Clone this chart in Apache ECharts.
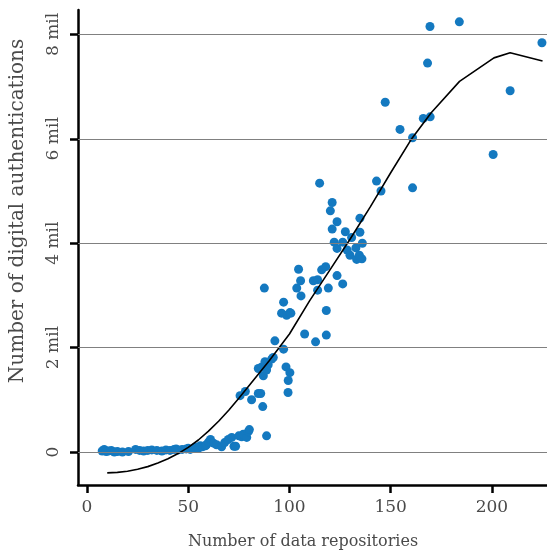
<!DOCTYPE html>
<html><head><meta charset="utf-8">
<script src="https://cdn.jsdelivr.net/npm/echarts@6/dist/echarts.min.js"></script>
<style>html,body{margin:0;padding:0;background:#fff}#c{width:547px;height:554px}</style>
</head><body><div id="c"></div>
<script>
// Scatter data: number of data repositories vs digital authentications (millions)
const repos = [
  7.5, 8.5, 9.5, 10.5, 12, 13.5, 15, 17.5, 20.5, 24, 26, 28, 30, 32, 34.5, 37, 39, 41, 43, 44, 45, 47, 49, 50, 51, 53, 54, 55, 56, 57, 58.5, 59, 60, 61, 62.5, 64, 66.5, 68, 69.8, 71.5, 72.6, 73.4, 75, 76.4, 77.2, 78.9, 79.7, 80.2, 88.7,
  75.6, 78.2, 81.3, 84.6, 85.8, 86.8, 84.6, 86.3, 87.9, 89.5, 91.2, 92.0, 87.1, 88.7, 87.6, 92.8, 97.1, 98.3, 100.2, 99.4, 99.3,
  97.1, 96.1, 98.6, 100.2, 100.7, 103.6, 104.5, 105.5, 105.7, 107.5, 111.8, 113.9, 113.9, 112.9, 115.9, 117.9, 118.2, 118.2, 119.2, 123.5, 126.3,
  114.9, 121.1, 120.2, 123.5, 121.1, 122.1, 123.5, 126.3, 127.6, 128.5, 129.9, 130.7, 132.8, 133.2, 134.5, 134.8, 134.8, 135.8, 136.0,
  143.0, 145.2, 147.3, 154.6, 160.8, 160.8, 166.1, 169.5, 168.2, 169.4, 183.9, 200.6, 209.0, 224.7
];
const authsMil = [
  0.02, 0.05, 0.01, 0.02, 0.03, 0.00, 0.01, 0.00, 0.01, 0.05, 0.03, 0.02, 0.03, 0.04, 0.03, 0.02, 0.04, 0.03, 0.05, 0.06, 0.04, 0.05, 0.06, 0.07, 0.05, 0.08, 0.09, 0.07, 0.12, 0.10, 0.12, 0.14, 0.19, 0.24, 0.17, 0.14, 0.10, 0.18, 0.24, 0.28, 0.11, 0.11, 0.31, 0.29, 0.34, 0.28, 0.39, 0.43, 0.31,
  1.08, 1.16, 1.00, 1.12, 1.12, 0.87, 1.60, 1.63, 1.73, 1.67, 1.78, 1.81, 1.46, 1.57, 3.14, 2.13, 1.97, 1.63, 1.52, 1.37, 1.14,
  2.87, 2.66, 2.62, 2.67, 2.66, 3.14, 3.50, 3.28, 2.99, 2.26, 3.28, 3.30, 3.10, 2.11, 3.49, 3.55, 2.71, 2.24, 3.14, 3.38, 3.22,
  5.15, 4.78, 4.62, 4.41, 4.27, 4.02, 3.90, 4.02, 4.22, 3.87, 3.77, 4.11, 3.91, 3.69, 3.77, 4.48, 4.21, 3.70, 4.00,
  5.19, 5.00, 6.70, 6.18, 6.02, 5.06, 6.39, 6.42, 7.45, 8.15, 8.24, 5.70, 6.92, 7.84
];
// Fitted curve
const fitX = [10, 15, 20, 25, 30, 35, 40, 45, 50, 55, 60, 65, 70, 75, 80, 90, 100, 110, 120, 130, 140, 150, 160, 170, 184, 201, 209, 225];
const fitY = [-0.40, -0.39, -0.37, -0.33, -0.28, -0.21, -0.13, -0.03, 0.09, 0.23, 0.40, 0.59, 0.80, 1.03, 1.27, 1.75, 2.26, 2.90, 3.49, 4.08, 4.70, 5.35, 5.98, 6.50, 7.10, 7.55, 7.65, 7.49];
// Ticks
const xTicks = [0, 50, 100, 150, 200];
const yTicks = [0, 2, 4, 6, 8];
const yTickLabels = ['0', '2 mil', '4 mil', '6 mil', '8 mil'];
const xTitle = 'Number of data repositories';
const yTitle = 'Number of digital authentications';

const FONT = '"DejaVu Serif", serif';
const TXT = '#4a4a4a';
const chart = echarts.init(document.getElementById('c'), null, {renderer: 'canvas'});
const pts = repos.map((x, i) => [x, authsMil[i]]);
const fit = fitX.map((x, i) => [x, fitY[i]]);
chart.setOption({
  animation: false,
  backgroundColor: '#fff',
  grid: {left: 78, right: 0, top: 10, bottom: 69, containLabel: false},
  xAxis: {
    type: 'value', min: -4.44, max: 227.2,
    splitLine: {show: false},
    axisLine: {show: true, onZero: false, lineStyle: {color: '#000', width: 2.5}},
    axisTick: {show: true, length: 8, customValues: xTicks, lineStyle: {color: '#000', width: 2.5}},
    axisLabel: {customValues: xTicks, margin: 14, color: TXT, fontFamily: FONT, fontSize: 17}
  },
  yAxis: {
    type: 'value', min: -0.632, max: 8.467,
    splitLine: {show: false},
    axisLine: {show: true, onZero: false, lineStyle: {color: '#000', width: 2.5}},
    axisTick: {show: true, length: 8, customValues: yTicks, lineStyle: {color: '#000', width: 2.5}},
    axisLabel: {customValues: yTicks, margin: 16, rotate: 90, color: TXT, fontFamily: FONT, fontSize: 17,
      formatter: v => { const i = yTicks.indexOf(v); return i >= 0 ? yTickLabels[i] : ''; }}
  },
  graphic: [
    {type: 'text', x: 303, y: 542, style: {text: xTitle, align: 'center', verticalAlign: 'middle', font: '16px ' + FONT, fill: TXT}},
    {type: 'text', x: 18, y: 211, rotation: Math.PI / 2, style: {text: yTitle, align: 'center', verticalAlign: 'middle', font: '20px ' + FONT, fill: TXT}}
  ],
  series: [
    {
      type: 'line', data: [], silent: true, z: 1,
      markLine: {silent: true, symbol: ['none', 'none'], label: {show: false},
        lineStyle: {color: '#808080', width: 1.2, type: 'solid'},
        data: yTicks.map(v => ({yAxis: v}))}
    },
    {
      type: 'scatter', data: pts, symbolSize: 9, z: 3,
      itemStyle: {color: '#1479c0', opacity: 1}
    },
    {
      type: 'line', data: fit, showSymbol: false, symbol: 'none', smooth: false, z: 4,
      lineStyle: {color: '#000', width: 1.6}
    }
  ]
});
</script></body></html>
